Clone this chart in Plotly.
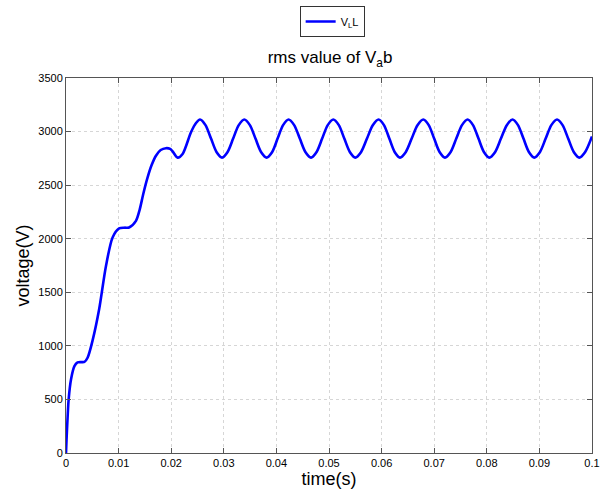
import plotly.graph_objects as go

# time (s) and rms voltage (V)
t = [0, 0.0001, 0.0003, 0.0005, 0.00095, 0.0016, 0.0022, 0.0029, 0.0035, 0.0041, 0.0051,
     0.0063, 0.0076, 0.00886, 0.0101, 0.0111, 0.0120, 0.0133, 0.0140, 0.0147, 0.0155,
     0.0163, 0.0171, 0.0180, 0.0190, 0.0198, 0.02027, 0.02122, 0.02217, 0.02376, 0.02472,
     0.02548, 0.02652, 0.02757, 0.02861, 0.02966, 0.03072, 0.03178, 0.03284,
     0.0339, 0.03496, 0.03602, 0.03708, 0.03814, 0.0392, 0.04023, 0.04127,
     0.04232, 0.04338, 0.04445, 0.04551, 0.04658, 0.04764, 0.0487, 0.04976,
     0.05082, 0.05187, 0.05291, 0.05396, 0.055, 0.05611, 0.05722, 0.05832,
     0.05943, 0.06045, 0.06147, 0.06248, 0.0635, 0.06461, 0.06572, 0.06682,
     0.06793, 0.06896, 0.06999, 0.07102, 0.07205, 0.07313, 0.0742, 0.07528,
     0.07635, 0.07738, 0.07842, 0.07945, 0.08048, 0.08159, 0.08269, 0.0838,
     0.0849, 0.08593, 0.08697, 0.088, 0.08903, 0.09011, 0.09119, 0.09227,
     0.09335, 0.09441, 0.09547, 0.09653, 0.09759, 0.0987, 0.1]
v = [0, 124, 330, 499, 686, 810, 845, 848, 850, 889, 1060,
     1341, 1746, 2012, 2096, 2103, 2105, 2167, 2270, 2420, 2570,
     2690, 2775, 2828, 2845, 2838, 2815, 2757, 2791, 2994, 3080,
     3113, 3060, 2935, 2810, 2757, 2810, 2935, 3060,
     3113, 3060, 2935, 2810, 2757, 2810, 2935, 3060,
     3113, 3060, 2935, 2810, 2757, 2810, 2935, 3060,
     3113, 3060, 2935, 2810, 2757, 2810, 2935, 3060,
     3113, 3060, 2935, 2810, 2757, 2810, 2935, 3060,
     3113, 3060, 2935, 2810, 2757, 2810, 2935, 3060,
     3113, 3060, 2935, 2810, 2757, 2810, 2935, 3060,
     3113, 3060, 2935, 2810, 2757, 2810, 2935, 3060,
     3113, 3060, 2935, 2810, 2757, 2810, 2955]

x_ticks = [0, 0.01, 0.02, 0.03, 0.04, 0.05, 0.06, 0.07, 0.08, 0.09, 0.1]
x_tick_labels = ["0", "0.01", "0.02", "0.03", "0.04", "0.05", "0.06", "0.07", "0.08", "0.09", "0.1"]
y_ticks = [0, 500, 1000, 1500, 2000, 2500, 3000, 3500]

FONT = "Liberation Sans, Arial, sans-serif"

fig = go.Figure()
fig.add_trace(go.Scatter(
    x=t, y=v, mode="lines", name="V<sub>L</sub>L",
    line=dict(color="#0000ff", width=2.6, shape="spline", smoothing=0.8),
))

axis_common = dict(
    showline=True, linecolor="#555555", linewidth=1, mirror="ticks",
    ticks="inside", ticklen=5, tickcolor="#555555",
    showgrid=True, gridcolor="#d6d6d6", griddash="dot", gridwidth=1,
    zeroline=False, automargin=False,
    tickfont=dict(family=FONT, size=11, color="#000000"),
)

fig.update_xaxes(range=[0, 0.1], tickvals=x_ticks, ticktext=x_tick_labels,
                 ticklabeloverflow="allow",
                 title=dict(text="time(s)", font=dict(family=FONT, size=18, color="#000000"), standoff=0),
                 **axis_common)
fig.update_yaxes(range=[0, 3500], tickvals=y_ticks,
                 title=dict(text="voltage(V)", font=dict(family=FONT, size=18, color="#000000"), standoff=4),
                 **axis_common)

fig.update_layout(
    width=602, height=493,
    margin=dict(l=66, r=10, t=78, b=40, autoexpand=False),
    paper_bgcolor="white", plot_bgcolor="white",
    font=dict(family=FONT, color="#000000"),
    title=dict(text="rms value of V<sub>a</sub>b", xref="paper", x=0.502, xanchor="center",
               y=0.884, yanchor="middle", font=dict(family=FONT, size=17, color="#000000")),
    showlegend=True,
    legend=dict(x=0.506, xanchor="center", y=1.192, yanchor="top",
                bordercolor="#333333", borderwidth=1, bgcolor="white",
                font=dict(family=FONT, size=11, color="#000000"),
                entrywidth=72, entrywidthmode="pixels"),
)

fig.write_html("out.html", config={"displayModeBar": False},
               post_script="document.body.style.margin='0';document.body.style.overflow='hidden';")
